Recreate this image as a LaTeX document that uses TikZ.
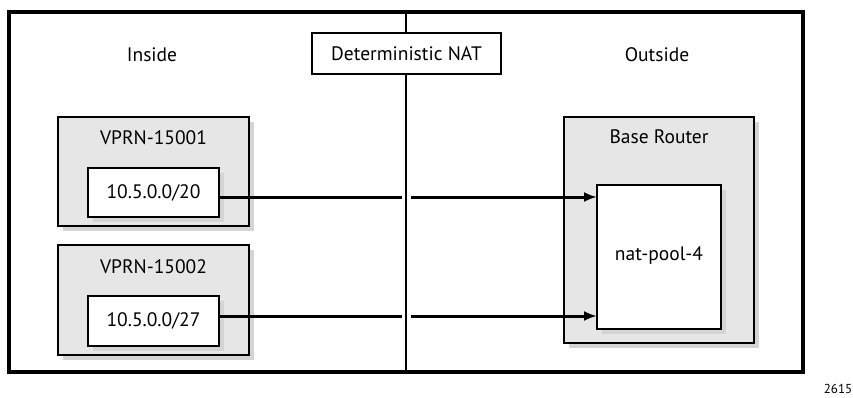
\documentclass[tikz,border=0pt]{standalone}
\usepackage{fontspec}
\setmainfont{PT Sans}
\usetikzlibrary{arrows.meta}
\definecolor{boxgray}{HTML}{E6E6E6}
\definecolor{shadowgray}{HTML}{D4D4D4}
\begin{document}
\begin{tikzpicture}[x=1pt,y=-1pt,
  every node/.style={font=\fontsize{19.5}{22}\selectfont, inner sep=0pt},
  shade box/.style={fill=shadowgray},
  grouppanel/.style={draw=black, line width=1.8pt, fill=boxgray},
  itembox/.style={draw=black, line width=1.8pt, fill=white},
  flow/.style={line width=3pt, -{Latex[length=13pt,width=10pt]}},
]
\useasboundingbox (0,0) rectangle (853,398);

% outer frame and the inside/outside divider line
\draw[line width=3.6pt] (9,12) rectangle (803,372);
\coordinate (divtop) at (406,12);
\coordinate (divbot) at (406,372);

% inside VPRNs
\fill[shade box] (63,122) rectangle (254,231);
\draw[grouppanel] (58,117) rectangle (249,226);
\node (vprn1) at (153.5,138) {VPRN-15001};
\fill[shade box] (93,173) rectangle (224,222);
\draw[itembox] (88,168) rectangle (219,217);
\node (net1) at (153.5,192.5) {10.5.0.0/20};
\coordinate (net1out) at (219,197);

\fill[shade box] (63,250) rectangle (254,360);
\draw[grouppanel] (58,245) rectangle (249,355);
\node (vprn2) at (153.5,267) {VPRN-15002};
\fill[shade box] (93,301) rectangle (224,351);
\draw[itembox] (88,296) rectangle (219,346);
\node (net2) at (153.5,321) {10.5.0.0/27};
\coordinate (net2out) at (219,316);

% outside base router with the NAT pool
\fill[shade box] (569,122) rectangle (759,348);
\draw[grouppanel] (564,117) rectangle (754,343);
\node (base) at (659,137) {Base Router};
\fill[shade box] (602,190) rectangle (726,334);
\draw[itembox] (597,185) rectangle (721,329);
\node (pool) at (659,256) {nat-pool-4};
\coordinate (pool1) at (597,197);
\coordinate (pool2) at (597,316);

% flows from each VPRN into the pool
\draw[flow] (net1out) -- (pool1);
\draw[flow] (net2out) -- (pool2);
\fill[white] (402,190) rectangle (411,204);
\fill[white] (402,309) rectangle (411,323);

% divider drawn over the flows
\draw[line width=1.1pt] (divtop) -- (divbot);

% zone labels
\node (inside) at (152,55) {Inside};
\node (outside) at (657,55) {Outside};
\node[draw, fill=white, line width=1.8pt, minimum width=189pt, minimum height=41pt] (dnat) at (406.5,53.5) {Deterministic NAT};

\node[font=\fontsize{13}{14}\selectfont, anchor=base] (fig) at (838,393) {2615};
\end{tikzpicture}
\end{document}
